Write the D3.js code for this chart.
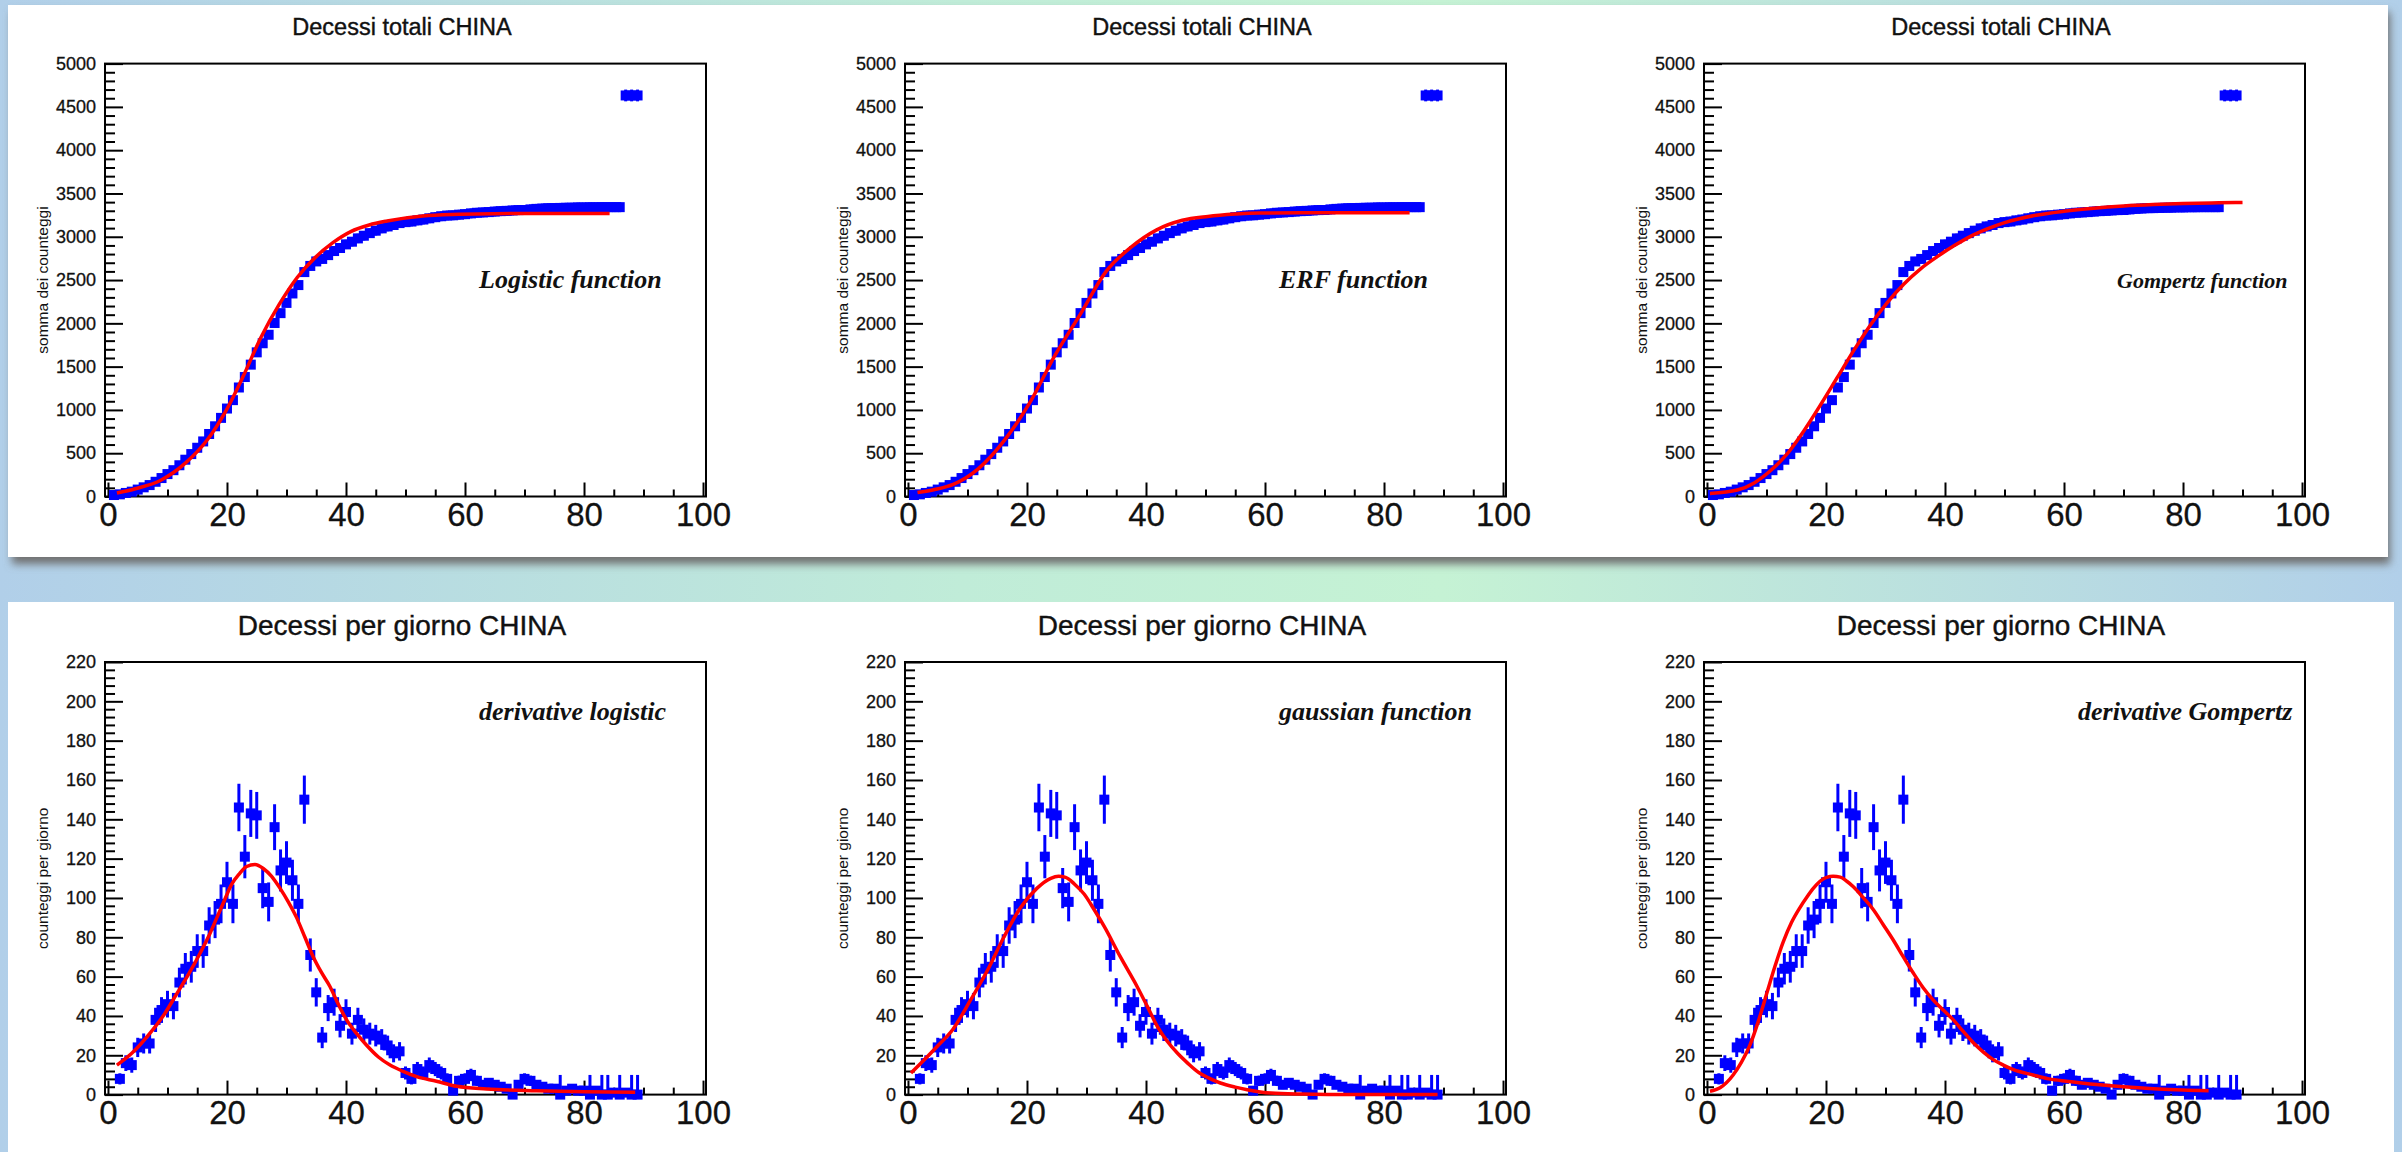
<!DOCTYPE html>
<html><head><meta charset="utf-8">
<script src="https://cdn.jsdelivr.net/npm/d3@7/dist/d3.min.js"></script>
<style>
html,body{margin:0;padding:0;background:#b8d4ea;overflow:hidden;}
svg{display:block;}
</style></head><body>
<svg id="chart" width="2402" height="1152"></svg>
<script>
// ---------------- DATA ----------------
const cumFirstDay = 1;
const cumulativeDeaths = [17,25,41,56,80,106,132,170,213,259,
 304,361,425,490,563,636,722,811,908,1016,
 1113,1259,1380,1523,1665,1770,1868,2004,2118,2236,
 2345,2442,2592,2663,2715,2744,2788,2835,2870,2912,
 2943,2981,3012,3042,3070,3097,3119,3136,3158,3169,
 3176,3189,3199,3213,3226,3237,3245,3248,3255,3261,
 3270,3277,3281,3285,3291,3296,3299,3304,3308,3309,
 3316,3322,3326,3330,3331,3333,3335,3336,3339,3339,
 3341,3341,3342,3342,3342,3342,4632,4632,4632];

const dailyFirstDay = 2;
const dailyDeaths = [8,16,15,24,26,26,38,43,46,45,
 57,64,65,73,73,86,89,97,108,97,
 146,121,143,142,105,98,136,114,118,109,
 97,150,71,52,29,44,47,35,42,31,
 38,33,31,30,28,25,21,22,11,8,
 13,11,15,13,11,8,2,7,8,10,
 7,5,6,5,4,3,0,5,8,7,
 5,4,3,3,0,2,3,2,2,0,
 2,0,0,1,0,1,0,0];
const zeroDayErrDays = [76,81,83,84,86,88,89];
const zeroDayErr = 10;

// fitted curves (x, y)
const fitLogistic = [[1.5,40],[4.6,90],[8.8,185],[13,385],[16.7,655],[19.7,975],[22.7,1385],[25.7,1837],[28.8,2221],[31.8,2529],[34.8,2759],[37.8,2932],[40.8,3060],[43.9,3136],[46.9,3182],[52.9,3240],[59,3259],[65,3267],[75,3270],[84.3,3270]];
const fitERF = [[1.6,45],[4.5,80],[7.6,140],[11.8,320],[16.1,640],[20.4,1075],[24.7,1630],[29,2110],[33.3,2600],[37.5,2880],[41.8,3080],[46.1,3190],[50.4,3235],[55,3262],[59,3275],[70,3278],[84.3,3278]];
const fitGompertz = [[0.5,36],[5.1,75],[8,160],[10.7,300],[13.5,495],[16.3,760],[19.1,1060],[21.9,1375],[24.7,1690],[27.5,1985],[30.3,2240],[33.1,2455],[35.9,2630],[38.7,2770],[41.5,2895],[44.3,3005],[47.1,3090],[49.9,3160],[55,3245],[60,3295],[65,3330],[70,3355],[75,3372],[80,3384],[86,3392],[90,3396]];
const fitDerivLogistic = [[1.5,15],[4,21],[7,31],[9.5,41],[11.5,51],[13.5,61],[15.5,72],[17,81],[18.3,90],[19.6,99],[20.8,107],[22,112],[23.3,116],[24.7,117],[26.1,115],[27.5,111],[28.9,105],[30.3,98],[31.7,90],[33.1,80],[34.5,70],[35.9,62],[37.3,55],[38.7,46],[40.1,38],[41.8,31],[43.5,25],[45.5,19],[47.4,15],[49.6,11.8],[52,9],[55.2,6.8],[58.6,4.2],[63.6,2.9],[72,2],[80,1.5],[88.6,1.2]];
const fitGauss = [[0.5,11],[2.5,17],[4.9,24.5],[7.5,33],[10.5,48],[13.5,64],[16.1,80],[18.9,95],[21.7,105],[24,110],[25.3,111],[26.5,110.5],[28,107],[29.6,102],[31.3,94],[33,85.4],[35.7,70],[38.5,55],[40.2,45],[41.9,34.7],[43.6,27],[45.3,21],[47,16],[48.6,11.8],[50.5,8.5],[52.5,5.9],[55,3.8],[57,2.5],[61,0.8],[66,0.3],[75,0],[89,0]];
const fitDerivGompertz = [[0.5,1.7],[2.2,3.5],[4.4,10],[5.8,16.5],[7.2,25],[8.6,37],[10,51],[11.4,65],[12.8,77.5],[14.2,87.5],[15.6,95],[16.8,100.5],[17.9,105],[19,108.5],[20.1,110.5],[21.2,111],[22.4,110.6],[23.5,108.5],[24.6,105.7],[26.3,100],[28,93.9],[29.6,86.5],[31.3,78.6],[33,70],[34.7,61.7],[36.3,54.5],[38,48.2],[39.7,43],[41.4,38],[43.1,32],[44.8,26.2],[46.5,21.5],[48.1,17.8],[49.8,15],[51.5,12.7],[54.8,10],[57.5,8],[60.4,6.8],[66,5],[70,4],[75,3],[80,2.3],[84.3,2]];

const xTicksMajor = [0,20,40,60,80,100];
const xTicksMinor = [5,10,15,25,30,35,45,50,55,65,70,75,85,90,95];
const yTicksTop = [0,500,1000,1500,2000,2500,3000,3500,4000,4500,5000];
const yTicksBottom = [0,20,40,60,80,100,120,140,160,180,200,220];

const titleTop = "Decessi totali CHINA";
const titleBottom = "Decessi per giorno CHINA";
const yTitleTop = "somma dei counteggi";
const yTitleBottom = "counteggi per giorno";
const fitLabelsTop = ["Logistic function","ERF function","Gompertz function"];
const fitLabelsBottom = ["derivative logistic","gaussian function","derivative Gompertz"];

// ---------------- LAYOUT ----------------
const W = 2402, H = 1152;
const svg = d3.select('#chart');
const defs = svg.append('defs');
const bg = defs.append('linearGradient').attr('id','bg').attr('x1','0%').attr('x2','100%').attr('y1','0%').attr('y2','0%');
[[0,'#b1cfe9'],[0.4,'#c0ecd8'],[0.6,'#c5f2d4'],[1,'#b1cfe9']].forEach(([o,c])=>bg.append('stop').attr('offset',o).attr('stop-color',c));
svg.append('rect').attr('width',W).attr('height',H).attr('fill','url(#bg)');
const flt = defs.append('filter').attr('id','sh').attr('x','-5%').attr('y','-10%').attr('width','110%').attr('height','130%');
flt.append('feGaussianBlur').attr('stdDeviation',4);
svg.append('rect').attr('x',12).attr('y',12).attr('width',2378).attr('height',552).attr('fill','#6f6f6f').attr('filter','url(#sh)');
svg.append('rect').attr('x',8).attr('y',5).attr('width',2380).attr('height',552).attr('fill','#fff');
svg.append('rect').attr('x',8).attr('y',602).attr('width',2386).attr('height',560).attr('fill','#fff');

const frameLefts = [105, 905, 1704];
const frameW = 601;
const MK = 10;
const rows = [
  {top:63.6, bottom:496.5, domain:[0,5000], ticks:yTicksTop, minorStep:100, title:titleTop, titleSize:23.5, titleBase:35,
   ytitle:yTitleTop, labels:fitLabelsTop, labelBase:288, labelX:[374,374,413], labelSize:[26,26,22],
   fits:[fitLogistic, fitERF, fitGompertz], values:cumulativeDeaths, first:cumFirstDay, errFn:(d,v)=>Math.sqrt(v)},
  {top:662, bottom:1094.6, domain:[0,220], ticks:yTicksBottom, minorStep:4, title:titleBottom, titleSize:28, titleBase:635,
   ytitle:yTitleBottom, labels:fitLabelsBottom, labelBase:720, labelX:[374,374,374], labelSize:[26,26,26],
   fits:[fitDerivLogistic, fitGauss, fitDerivGompertz], values:dailyDeaths, first:dailyFirstDay,
   errFn:(d,v)=> (v===0 && zeroDayErrDays.includes(d)) ? zeroDayErr : Math.sqrt(v)}
];

const SANS = "'Liberation Sans', Arial, Helvetica, sans-serif";
const SERIF = "'Liberation Serif', 'Times New Roman', serif";

rows.forEach(row => {
  frameLefts.forEach((left, pi) => {
    const x = d3.scaleLinear().domain([-0.5, 100.5]).range([left, left + frameW]);
    const y = d3.scaleLinear().domain(row.domain).range([row.bottom, row.top]);
    const g = svg.append('g');

    const yMinor = d3.range(row.domain[0], row.domain[1] + 1e-9, row.minorStep).filter(v => !row.ticks.includes(v));
    g.append('g').attr('transform',`translate(${left},0)`)
      .call(d3.axisLeft(y).tickValues(yMinor).tickSize(-10).tickFormat(''))
      .call(s => { s.select('.domain').remove(); s.selectAll('line').attr('stroke','#000').attr('stroke-width',2); });
    g.append('g').attr('transform',`translate(${left},0)`)
      .call(d3.axisLeft(y).tickValues(row.ticks).tickSize(-18).tickPadding(9).tickFormat(d3.format('d')))
      .call(s => {
        s.select('.domain').remove();
        s.selectAll('line').attr('stroke','#000').attr('stroke-width',2);
        s.selectAll('text').attr('font-family',SANS).attr('font-size',18).attr('fill','#111')
          .attr('stroke','#111').attr('stroke-width',0.3);
      });
    g.append('g').attr('transform',`translate(0,${row.bottom})`)
      .call(d3.axisBottom(x).tickValues(xTicksMinor).tickSize(-7).tickFormat(''))
      .call(s => { s.select('.domain').remove(); s.selectAll('line').attr('stroke','#000').attr('stroke-width',2); });
    g.append('g').attr('transform',`translate(0,${row.bottom})`)
      .call(d3.axisBottom(x).tickValues(xTicksMajor).tickSize(-14).tickPadding(6).tickFormat(d3.format('d')))
      .call(s => {
        s.select('.domain').remove();
        s.selectAll('line').attr('stroke','#000').attr('stroke-width',2);
        s.selectAll('text').attr('font-family',SANS).attr('font-size',33).attr('fill','#111')
          .attr('stroke','#111').attr('stroke-width',0.3);
      });

    g.append('rect').attr('x',left).attr('y',row.top).attr('width',frameW).attr('height',row.bottom-row.top)
      .attr('fill','none').attr('stroke','#000').attr('stroke-width',2);

    const pts = row.values.map((v,i) => ({d: row.first + i, v}));
    const dg = g.append('g');
    dg.selectAll('line.err').data(pts).join('line').attr('class','err')
      .attr('x1', p => x(p.d)).attr('x2', p => x(p.d))
      .attr('y1', p => y(Math.max(row.domain[0], p.v - row.errFn(p.d, p.v))))
      .attr('y2', p => y(Math.min(row.domain[1], p.v + row.errFn(p.d, p.v))))
      .attr('stroke','#0000ff').attr('stroke-width',3);
    dg.selectAll('rect.mk').data(pts).join('rect').attr('class','mk')
      .attr('x', p => x(p.d) - MK/2).attr('y', p => y(p.v) - MK/2).attr('width',MK).attr('height',MK)
      .attr('fill','#0000ff');

    const line = d3.line().x(p => x(p[0])).y(p => y(p[1])).curve(d3.curveMonotoneX);
    g.append('path').datum(row.fits[pi]).attr('d', line)
      .attr('fill','none').attr('stroke','#ff0000').attr('stroke-width',3.5).attr('stroke-linejoin','round');

    svg.append('text').attr('x', left + 297).attr('y', row.titleBase).attr('text-anchor','middle')
      .attr('font-family',SANS).attr('font-size',row.titleSize).attr('fill','#111')
      .attr('stroke','#111').attr('stroke-width',0.4).text(row.title);
    const ym = (row.top + row.bottom) / 2;
    svg.append('text').attr('transform',`translate(${left - 62},${ym}) rotate(-90)`).attr('text-anchor','middle')
      .attr('dy','0.35em').attr('font-family',SANS).attr('font-size',15.5).attr('fill','#111').text(row.ytitle);
    svg.append('text').attr('x', left + row.labelX[pi]).attr('y', row.labelBase)
      .attr('font-family',SERIF).attr('font-style','italic').attr('font-weight','bold')
      .attr('font-size',row.labelSize[pi]).attr('fill','#111').text(row.labels[pi]);
  });
});
</script>
</body></html>
